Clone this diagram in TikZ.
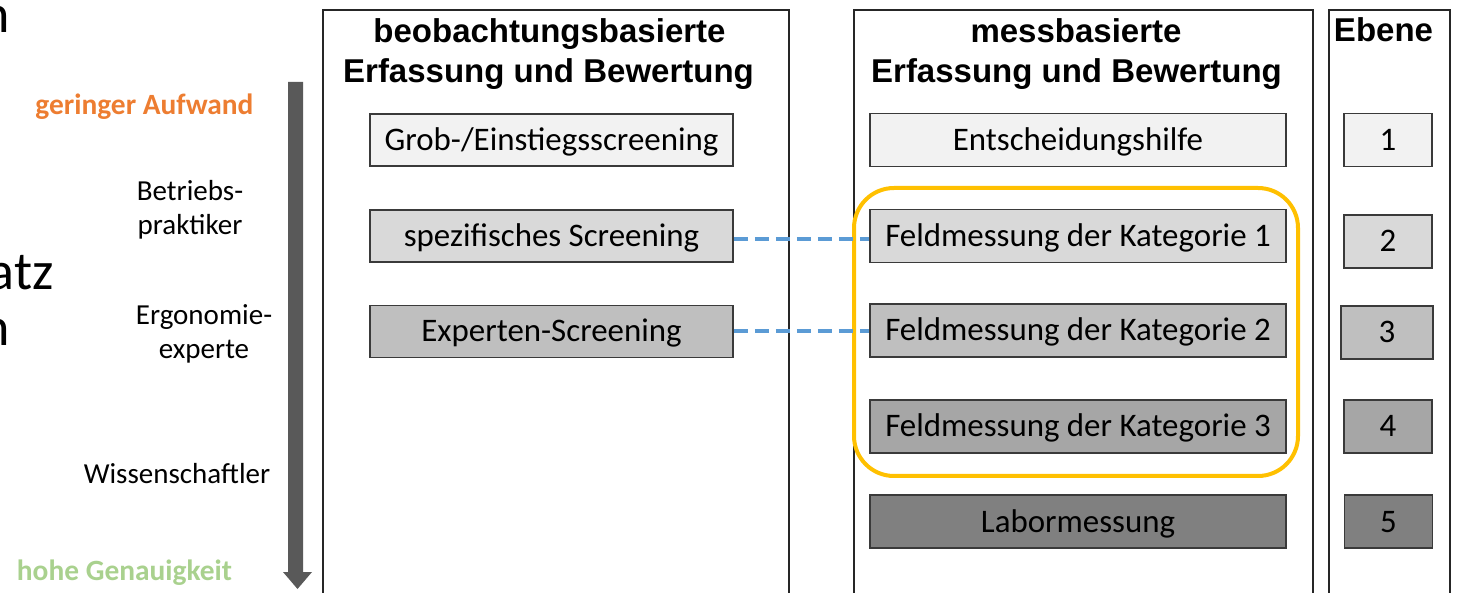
\documentclass[tikz,border=0pt]{standalone}
\usepackage{fontspec}
\setmainfont{Carlito}
\newfontfamily\headfont{Liberation Sans}
\definecolor{lvA}{HTML}{F2F2F2}
\definecolor{lvB}{HTML}{D9D9D9}
\definecolor{lvC}{HTML}{BFBFBF}
\definecolor{lvD}{HTML}{A6A6A6}
\definecolor{lvE}{HTML}{808080}
\definecolor{boxline}{HTML}{3A3A3A}
\definecolor{panelline}{HTML}{262626}
\definecolor{arrowgray}{HTML}{595959}
\definecolor{groupgold}{HTML}{FFC000}
\definecolor{linkblue}{HTML}{5B9BD5}
\definecolor{effortorange}{HTML}{ED7D31}
\definecolor{accgreen}{HTML}{A9D18E}
\tikzset{
  lvl/.style={draw=boxline, line width=0.75pt, inner sep=0pt,
    text height=11.5pt, text depth=1pt,
    font=\fontsize{16.45}{19}\selectfont, text=black},
  obsbox/.style={lvl, minimum width=181.5pt, minimum height=26pt},
  messbox/.style={lvl, minimum width=208pt, minimum height=26.5pt},
  numbox/.style={lvl, minimum width=44pt, minimum height=26.5pt},
  panel/.style={draw=panelline, line width=0.7pt},
  head/.style={inner sep=0pt, anchor=base,
    font=\headfont\bfseries\fontsize{16.5}{19}\selectfont},
  role/.style={inner sep=0pt, anchor=base, font=\fontsize{14.5}{16}\selectfont},
  pole/.style={inner sep=0pt, anchor=base, font=\bfseries\fontsize{14.7}{16}\selectfont},
  bigtext/.style={inner sep=0pt, anchor=base east, font=\fontsize{27}{30}\selectfont},
  link/.style={draw=linkblue, line width=2pt, dash pattern=on 7pt off 3.5pt},
}
\begin{document}
\begin{tikzpicture}[x=0.5pt, y=-0.5pt]
\useasboundingbox (0,0) rectangle (1458,593);
\clip (0,0) rectangle (1458,593);

% text running in from the left
\node[bigtext] (frag1) at (10,33) {n};
\node[bigtext] (frag2) at (54,290) {atz};
\node[bigtext] (frag3) at (10,346) {n};

% direction arrow
\fill[arrowgray] (288,82) -- (303,82) -- (303,572) -- (312,572) -- (297.5,589)
  -- (283,572) -- (288,572) -- cycle;

% scale labels
\node[pole, text=effortorange] (effort) at (144.5,115) {geringer Aufwand};
\node[role] (r1a) at (190,201) {Betriebs-};
\node[role] (r1b) at (190,235) {praktiker};
\node[role] (r2a) at (204,325) {Ergonomie-};
\node[role] (r2b) at (204,359) {experte};
\node[role] (r3) at (177,484) {Wissenschaftler};
\node[pole, text=accgreen] (accuracy) at (124.5,581) {hohe Genauigkeit};

% panels
\draw[panel] (323,10) rectangle (789,620);
\draw[panel] (854,10) rectangle (1313,620);
\draw[panel] (1329,10) rectangle (1450,620);

% panel headings
\node[head] (hL1) at (549.5,43) {beobachtungsbasierte};
\node[head] (hL2) at (548.5,83) {Erfassung und Bewertung};
\node[head] (hM1) at (1076,43) {messbasierte};
\node[head] (hM2) at (1076.5,83) {Erfassung und Bewertung};
\node[head] (hE) at (1383.5,42) {Ebene};

% observation based methods
\node[obsbox, fill=lvA] (grob) at (551.5,140) {Grob-/Einstiegsscreening};
\node[obsbox, fill=lvB] (spez) at (551.5,236) {spezifisches Screening};
\node[obsbox, fill=lvC] (expe) at (551.5,331.5) {Experten-Screening};

% measurement based methods
\node[messbox, fill=lvA] (ent) at (1078,140) {Entscheidungshilfe};
\node[messbox, fill=lvB] (feld1) at (1078,236) {Feldmessung der Kategorie 1};
\node[messbox, fill=lvC] (feld2) at (1078,330.5) {Feldmessung der Kategorie 2};
\node[messbox, fill=lvD] (feld3) at (1078,426.5) {Feldmessung der Kategorie 3};
\node[messbox, fill=lvE] (labor) at (1078,521.5) {Labormessung};

% level numbers
\node[numbox, fill=lvA] (e1) at (1388,140) {1};
\node[numbox, fill=lvB] (e2) at (1388,241.5) {2};
\node[numbox, fill=lvC, minimum width=46pt] (e3) at (1387,332.5) {3};
\node[numbox, fill=lvD] (e4) at (1388,426.5) {4};
\node[numbox, fill=lvE] (e5) at (1388.5,521.5) {5};

% field measurement group
\draw[groupgold, line width=2pt, rounded corners=20pt] (854,188) rectangle (1298,476);

% correspondences
\draw[link] ([yshift=-1.5pt]spez.east) -- ([yshift=-1.5pt]feld1.west);
\draw[link] (expe.east) -- (expe.east -| feld2.west);
\end{tikzpicture}
\end{document}
